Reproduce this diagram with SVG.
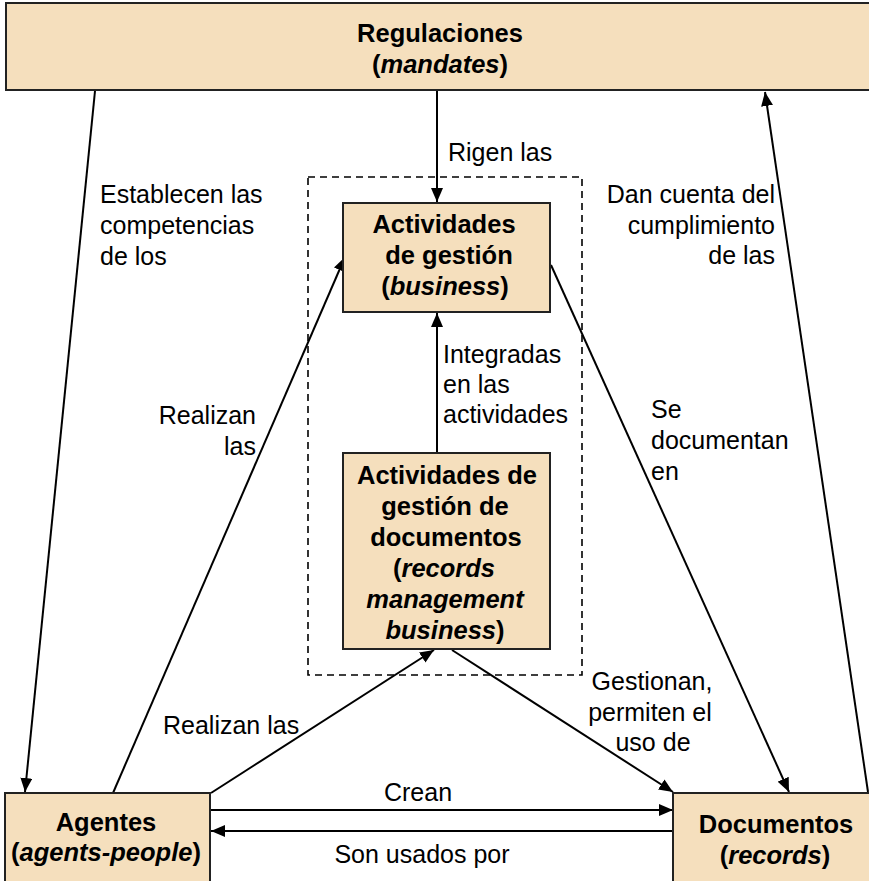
<svg xmlns="http://www.w3.org/2000/svg" width="869" height="881" viewBox="0 0 869 881">
<defs>
<marker id="ah" viewBox="0 0 14 12" refX="14" refY="6" markerWidth="14" markerHeight="12" markerUnits="userSpaceOnUse" orient="auto">
<path d="M0,0 L14,6 L0,12 Z" fill="#000"/>
</marker>
<style>
.box{fill:#f5dfbd;stroke:#222;stroke-width:2}
.bt{font-family:"Liberation Sans",Arial,sans-serif;font-size:25.5px;font-weight:bold;fill:#000;text-anchor:middle}
.lb{font-family:"Liberation Sans",Arial,sans-serif;font-size:25px;fill:#000}
.c{stroke:#000;stroke-width:2;fill:none;marker-end:url(#ah)}
</style>
</defs>
<rect width="869" height="881" fill="#fff"/>
<rect x="308" y="177" width="274" height="498" fill="none" stroke="#000" stroke-width="1.6" stroke-dasharray="7,5"/>
<g id="connectors">
<line class="c" x1="437" y1="91" x2="437" y2="202"/>
<line class="c" x1="437" y1="453" x2="437" y2="313"/>
<line class="c" x1="95" y1="91" x2="25" y2="792"/>
<line class="c" x1="868" y1="792" x2="765" y2="92"/>
<line class="c" x1="113" y1="793" x2="345" y2="257"/>
<line class="c" x1="551" y1="265" x2="789" y2="792"/>
<line class="c" x1="211" y1="793" x2="434" y2="650"/>
<line class="c" x1="452" y1="650" x2="673" y2="792"/>
<line class="c" x1="211" y1="810" x2="673" y2="810"/>
<line class="c" x1="673" y1="831" x2="211" y2="831"/>
</g>
<g id="regulaciones">
<rect class="box" x="6" y="3" width="870" height="87"/>
<text class="bt" x="440" y="42">Regulaciones</text>
<text class="bt" x="440" y="73">(<tspan font-style="italic">mandates</tspan>)</text>
</g>
<g id="actividades">
<rect class="box" x="343" y="203" width="207" height="109"/>
<text class="bt" x="444" y="233">Actividades</text>
<text class="bt" x="449" y="264">de gestión</text>
<text class="bt" x="445" y="295">(<tspan font-style="italic">business</tspan>)</text>
</g>
<g id="records">
<rect class="box" x="343" y="453" width="207" height="196"/>
<text class="bt" x="447" y="484">Actividades de</text>
<text class="bt" x="445" y="515">gestión de</text>
<text class="bt" x="446" y="546">documentos</text>
<text class="bt" x="444" y="577">(<tspan font-style="italic">records</tspan></text>
<text class="bt" x="445" y="608" font-style="italic">management</text>
<text class="bt" x="445" y="639"><tspan font-style="italic">business</tspan>)</text>
</g>
<g id="agentes">
<rect class="box" x="5" y="793" width="205" height="95"/>
<text class="bt" x="106" y="831">Agentes</text>
<text class="bt" x="106" y="861">(<tspan font-style="italic">agents-people</tspan>)</text>
</g>
<g id="documentos">
<rect class="box" x="673" y="793" width="205" height="95"/>
<text class="bt" x="776" y="833">Documentos</text>
<text class="bt" x="775" y="864">(<tspan font-style="italic">records</tspan>)</text>
</g>
<g id="labels">
<text class="lb" x="448" y="161">Rigen las</text>
<text class="lb" x="100" y="203">Establecen las</text>
<text class="lb" x="100" y="234">competencias</text>
<text class="lb" x="100" y="265">de los</text>
<text class="lb" x="775" y="203" text-anchor="end">Dan cuenta del</text>
<text class="lb" x="775" y="234" text-anchor="end">cumplimiento</text>
<text class="lb" x="775" y="264" text-anchor="end">de las</text>
<text class="lb" x="443" y="363">Integradas</text>
<text class="lb" x="443" y="393">en las</text>
<text class="lb" x="443" y="423">actividades</text>
<text class="lb" x="256" y="424" text-anchor="end">Realizan</text>
<text class="lb" x="256" y="455" text-anchor="end">las</text>
<text class="lb" x="651" y="418">Se</text>
<text class="lb" x="651" y="449">documentan</text>
<text class="lb" x="651" y="480">en</text>
<text class="lb" x="163" y="734">Realizan las</text>
<text class="lb" x="652" y="690" text-anchor="middle">Gestionan,</text>
<text class="lb" x="650" y="721" text-anchor="middle">permiten el</text>
<text class="lb" x="653" y="751" text-anchor="middle">uso de</text>
<text class="lb" x="418" y="801" text-anchor="middle">Crean</text>
<text class="lb" x="422" y="863" text-anchor="middle">Son usados por</text>
</g>
</svg>
